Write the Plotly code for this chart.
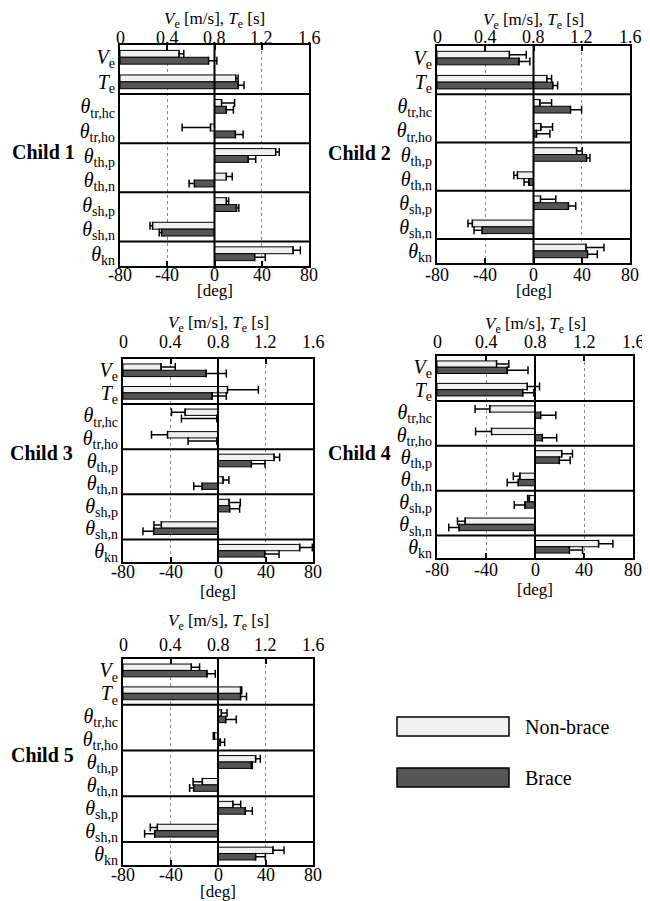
import plotly.graph_objects as go

# page body has an 8px margin; figure coordinates below are page pixels minus OFF
OFF = 8
W, H = 650 - OFF, 901 - OFF
FONT = "Liberation Serif"

row_labels = ["<i>V</i><sub>e</sub>", "<i>T</i><sub>e</sub>",
              "<i>θ</i><sub>tr,hc</sub>", "<i>θ</i><sub>tr,ho</sub>",
              "<i>θ</i><sub>th,p</sub>", "<i>θ</i><sub>th,n</sub>",
              "<i>θ</i><sub>sh,p</sub>", "<i>θ</i><sub>sh,n</sub>",
              "<i>θ</i><sub>kn</sub>"]
children = ["Child 1", "Child 2", "Child 3", "Child 4", "Child 5"]
top_title = "<i>V</i><sub>e</sub> [m/s], <i>T</i><sub>e</sub> [s]"
bottom_title = "[deg]"

deg_ticks = [-80, -40, 0, 40, 80]
deg_text = ["-80", "-40", "0", "40", "80"]
top_ticks = [0, 0.4, 0.8, 1.2, 1.6]
top_text = ["0", "0.4", "0.8", "1.2", "1.6"]

# first two entries: V_e [m/s], T_e [s]; rest in deg
nb_c1 = [0.50, 0.98, 6, -3.4, 51.8, 10, 10, -52.4, 66.5]
nb_e1 = [0.04, 0.02, 11, 24, 3, 5, 2, 2.2, 6.2]
br_c1 = [0.75, 1.00, 10, 17.7, 28.5, -17, 18.6, -44.8, 34]
br_e1 = [0.07, 0.05, 6, 6.5, 6.4, 4.5, 2, 2, 9]

nb_c2 = [0.60, 0.91, 5.3, 6.1, 35.7, -13.3, 5.8, -50.7, 43.5]
nb_e2 = [0.14, 0.04, 9.7, 9.7, 4.7, 3, 12.7, 3.6, 14.9]
br_c2 = [0.68, 0.96, 30.7, 2.5, 44, -3.9, 29, -42.6, 44.8]
br_e2 = [0.09, 0.04, 9.2, 11.1, 2.8, 3.9, 6, 6.7, 8.1]

nb_c3 = [0.32, 0.88, -27.7, -42.5, 47.2, 4.2, 9.3, -47.7, 68.8]
nb_e3 = [0.12, 0.26, 11.5, 13.5, 4.7, 5, 9.5, 6.2, 10.6]
br_c3 = [0.70, 0.75, -1, -1, 28.1, -13.4, 9.8, -54.2, 39.3]
br_e3 = [0.17, 0.12, 29.8, 24.2, 11.5, 7, 8.4, 9, 12.1]

nb_c4 = [0.486, 0.737, -36.9, -35.5, 21.8, -12.3, -4.6, -57, 51.9]
nb_e4 = [0.10, 0.10, 12, 13, 8.8, 5.4, 1.4, 6.3, 11.7]
br_c4 = [0.573, 0.70, 4.6, 6, 19.9, -13.7, -8.2, -62, 28.1]
br_e4 = [0.17, 0.09, 12.4, 11.7, 8.8, 9, 8.7, 8.4, 10.7]

nb_c5 = [0.575, 0.99, 2.8, -3, 31.7, -13.2, 12.6, -51.1, 46.3]
nb_e5 = [0.07, 0.01, 4.8, 1, 3.9, 7.8, 6.5, 5.9, 9.3]
br_c5 = [0.707, 0.99, 6.5, 2, 28.1, -20.5, 23, -53.3, 31.7]
br_e5 = [0.07, 0.05, 8.9, 3.6, 0.8, 3.4, 5.9, 8.5, 8.2]

nonbrace = [nb_c1, nb_c2, nb_c3, nb_c4, nb_c5]
nonbrace_err = [nb_e1, nb_e2, nb_e3, nb_e4, nb_e5]
brace = [br_c1, br_c2, br_c3, br_c4, br_c5]
brace_err = [br_e1, br_e2, br_e3, br_e4, br_e5]

# layout: panel plot areas in page pixels (x0, x1, y0, y1)
panels = [(120, 309, 45, 266), (437, 630, 46, 263), (123, 313, 359, 562),
          (437, 633, 356, 558), (123, 313, 659, 865)]
child_pos = [(77, 152), (393, 153), (75, 453), (393, 453), (76, 755)]
# label distances from panel edges (px, to text centre)
top_tick_dy = [7, 9, 17, 14, 14]
top_title_dy = [25, 25, 35, 31, 37]
bot_tick_dy = [9, 12, 10, 12, 10]
bot_title_dy = [24, 27, 29, 31, 26]

NB_COLOR = "#f0f0f0"
BR_COLOR = "#555555"


def px_x(x):
    return (x - OFF) / W


def px_y(y):
    return 1 - (y - OFF) / H


def err_dict(vals, errs):
    plus = [e if v >= 0 else 0 for v, e in zip(vals, errs)]
    minus = [e if v < 0 else 0 for v, e in zip(vals, errs)]
    return dict(type="data", symmetric=False, array=plus, arrayminus=minus,
                color="black", thickness=1.5, width=4)


def ref(letter, n):
    return letter if n == 1 else f"{letter}{n}"


fig = go.Figure()
layout = dict(width=W, height=H, margin=dict(l=0, r=0, t=0, b=0, autoexpand=False),
              paper_bgcolor="white", plot_bgcolor="white",
              barmode="overlay", showlegend=False,
              font=dict(family=FONT, color="black", size=18))
shapes = []
annotations = []
ypos = list(range(9))


def text_ann(text, xref, x, y, size, xanchor="center"):
    return dict(text=text, xref=xref, yref="paper", x=x, y=y, xanchor=xanchor,
                yanchor="middle", showarrow=False, font=dict(size=size))


for i in range(5):
    nb_idx = 2 * i + 1
    nt_idx = 2 * i + 2
    xb = ref("x", nb_idx)
    xt = ref("x", nt_idx)
    ya = ref("y", i + 1)
    for vals, errs, color, off in [(nonbrace[i], nonbrace_err[i], NB_COLOR, -0.28),
                                   (brace[i], brace_err[i], BR_COLOR, 0.0)]:
        # V_e, T_e on the top axis
        fig.add_trace(go.Bar(x=vals[:2], y=ypos[:2], orientation="h",
                             xaxis=xt, yaxis=ya, width=0.28, offset=off,
                             marker=dict(color=color, line=dict(color="black", width=1)),
                             error_x=err_dict(vals[:2], errs[:2])))
        # angles on the bottom axis
        fig.add_trace(go.Bar(x=vals[2:], y=ypos[2:], orientation="h",
                             xaxis=xb, yaxis=ya, width=0.28, offset=off,
                             marker=dict(color=color, line=dict(color="black", width=1)),
                             error_x=err_dict(vals[2:], errs[2:])))
    x0, x1, y0, y1 = panels[i]
    dom_x = [px_x(x0), px_x(x1)]
    dom_y = [px_y(y1), px_y(y0)]
    layout[f"xaxis{nb_idx}"] = dict(
        domain=dom_x, anchor=ya, range=[-80, 80], tickvals=deg_ticks,
        showticklabels=False,
        ticks="inside", ticklen=5, tickwidth=1.5, tickcolor="black",
        showline=True, linewidth=2, linecolor="black", automargin=False,
        showgrid=True, gridcolor="#888888", griddash="dot", gridwidth=1,
        zeroline=False)
    layout[f"xaxis{nt_idx}"] = dict(
        domain=dom_x, anchor=ya, overlaying=xb, side="top", range=[0, 1.6],
        tickvals=top_ticks, showticklabels=False, automargin=False,
        ticks="inside", ticklen=5, tickwidth=1.5, tickcolor="black",
        showline=True, linewidth=2, linecolor="black",
        showgrid=False, zeroline=False)
    layout[f"yaxis{i + 1}"] = dict(
        domain=dom_y, anchor=xb, range=[8.5, -0.5], tickvals=ypos, ticktext=row_labels,
        showline=True, mirror=True, linewidth=2, linecolor="black", automargin=False,
        ticks="", showgrid=False, zeroline=False, tickfont=dict(size=20),
        ticklabelstandoff=-1)
    # tick labels and axis titles placed through the axes' own scales
    for v, t in zip(deg_ticks, deg_text):
        annotations.append(text_ann(t, xb, v, px_y(y1 + bot_tick_dy[i]), 18))
    for v, t in zip(top_ticks, top_text):
        annotations.append(text_ann(t, xt, v, px_y(y0 - top_tick_dy[i]), 18))
    annotations.append(text_ann(bottom_title, f"{xb} domain", 0.5,
                                px_y(y1 + bot_title_dy[i]), 17))
    annotations.append(text_ann(top_title, f"{xb} domain", 0.5,
                                px_y(y0 - top_title_dy[i]), 17))
    # zero line
    shapes.append(dict(type="line", xref=xb, yref=f"{ya} domain", x0=0, x1=0, y0=0, y1=1,
                       line=dict(color="black", width=2), layer="above"))
    # group separators
    for sep in [1.5, 3.5, 5.5, 7.5]:
        shapes.append(dict(type="line", xref=f"{xb} domain", yref=ya, x0=0, x1=1,
                           y0=sep, y1=sep, line=dict(color="black", width=2), layer="above"))
    cx, cy = child_pos[i]
    annotations.append(dict(text=f"<b>{children[i]}</b>", xref="paper", yref="paper",
                            x=px_x(cx), y=px_y(cy), xanchor="right", yanchor="middle",
                            showarrow=False, font=dict(size=20)))

# legend
legend_items = [("Non-brace", NB_COLOR, 717, 736), ("Brace", BR_COLOR, 768, 787)]
for name, color, ly0, ly1 in legend_items:
    shapes.append(dict(type="rect", xref="paper", yref="paper",
                       x0=px_x(397), x1=px_x(509), y0=px_y(ly1), y1=px_y(ly0),
                       fillcolor=color, line=dict(color="black", width=1.5)))
    annotations.append(dict(text=name, xref="paper", yref="paper",
                            x=px_x(523), y=px_y((ly0 + ly1) / 2),
                            xanchor="left", yanchor="middle", showarrow=False,
                            font=dict(size=20)))

layout["shapes"] = shapes
layout["annotations"] = annotations
fig.update_layout(**layout)
fig.write_html("out.html")
